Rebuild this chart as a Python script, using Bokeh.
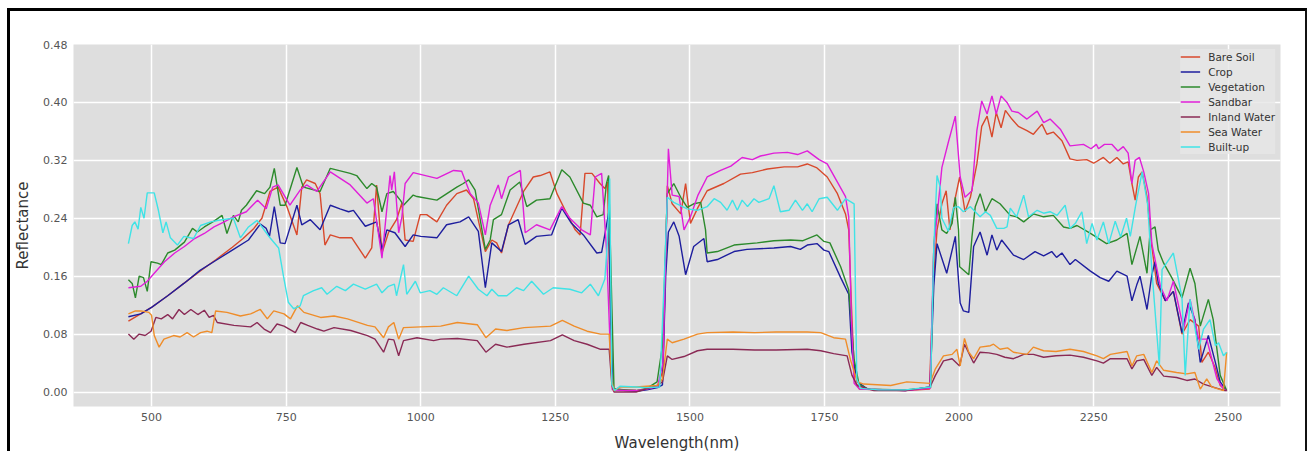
from bokeh.plotting import figure
from bokeh.models import FixedTicker, PrintfTickFormatter, Range1d
from bokeh.embed import file_html
from bokeh.resources import INLINE

# ---------------- data ----------------
series_names = ["Bare Soil", "Crop", "Vegetation", "Sandbar", "Inland Water", "Sea Water", "Built-up"]
series_colors = ["#d8492c", "#1e1e9e", "#2c8a2c", "#e01fd9", "#8a2a55", "#ef8d2a", "#3fe3e6"]

x_ticks = [500, 750, 1000, 1250, 1500, 1750, 2000, 2250, 2500]
y_ticks = [0.0, 0.08, 0.16, 0.24, 0.32, 0.40, 0.48]

wl_bare = [457, 475, 500, 530, 560, 590, 620, 650, 670, 690, 705, 720, 735, 752, 770, 779, 788, 804, 813, 822, 832, 850, 872, 897, 909, 918, 928, 940, 955, 965, 971, 986, 999, 1011, 1030, 1048, 1067, 1085, 1098, 1120, 1132, 1141, 1150, 1163, 1191, 1209, 1222, 1240, 1253, 1271, 1287, 1296, 1305, 1318, 1333, 1342, 1347, 1352, 1356, 1380, 1400, 1420, 1440, 1450, 1458, 1467, 1483, 1492, 1501, 1515, 1532, 1563, 1594, 1616, 1644, 1675, 1700, 1718, 1735, 1755, 1774, 1789, 1795, 1800, 1806, 1815, 1850, 1900, 1945, 1952, 1959, 1968, 1976, 1983, 1992, 2001, 2011, 2021, 2033, 2042, 2052, 2061, 2069, 2078, 2086, 2098, 2110, 2126, 2138, 2154, 2163, 2175, 2191, 2206, 2219, 2237, 2250, 2268, 2280, 2293, 2305, 2314, 2321, 2327, 2333, 2340, 2349, 2358, 2367, 2383, 2398, 2414, 2429, 2445, 2451, 2463, 2475, 2485, 2497]
r_bare = [0.098, 0.106, 0.117, 0.133, 0.150, 0.167, 0.183, 0.200, 0.212, 0.226, 0.240, 0.277, 0.283, 0.255, 0.217, 0.283, 0.293, 0.288, 0.274, 0.203, 0.217, 0.213, 0.213, 0.185, 0.199, 0.286, 0.192, 0.220, 0.238, 0.261, 0.210, 0.208, 0.245, 0.245, 0.235, 0.258, 0.274, 0.279, 0.267, 0.194, 0.210, 0.206, 0.192, 0.231, 0.277, 0.297, 0.299, 0.304, 0.274, 0.247, 0.224, 0.217, 0.302, 0.302, 0.288, 0.281, 0.290, 0.120, 0.005, 0.003, 0.002, 0.004, 0.008, 0.030, 0.285, 0.260, 0.246, 0.288, 0.233, 0.255, 0.278, 0.288, 0.301, 0.303, 0.308, 0.311, 0.311, 0.315, 0.310, 0.297, 0.274, 0.246, 0.224, 0.120, 0.015, 0.004, 0.003, 0.002, 0.004, 0.150, 0.224, 0.260, 0.278, 0.224, 0.265, 0.297, 0.249, 0.269, 0.315, 0.367, 0.381, 0.352, 0.386, 0.365, 0.389, 0.377, 0.367, 0.361, 0.356, 0.370, 0.356, 0.359, 0.347, 0.322, 0.320, 0.321, 0.316, 0.324, 0.316, 0.324, 0.315, 0.318, 0.288, 0.265, 0.297, 0.304, 0.270, 0.201, 0.150, 0.126, 0.139, 0.080, 0.100, 0.091, 0.041, 0.055, 0.035, 0.009, 0.002]

wl_crop = [457, 480, 500, 530, 560, 590, 620, 650, 680, 702, 713, 719, 728, 739, 748, 770, 779, 795, 813, 832, 850, 866, 875, 897, 918, 928, 937, 952, 971, 986, 1000, 1030, 1048, 1073, 1089, 1107, 1120, 1132, 1150, 1163, 1181, 1194, 1215, 1243, 1262, 1280, 1302, 1327, 1336, 1349, 1353, 1357, 1380, 1400, 1420, 1440, 1449, 1455, 1460, 1470, 1480, 1492, 1507, 1526, 1532, 1551, 1582, 1606, 1656, 1687, 1705, 1718, 1736, 1749, 1758, 1780, 1795, 1801, 1811, 1830, 1900, 1946, 1953, 1959, 1977, 1993, 2002, 2008, 2018, 2027, 2039, 2052, 2061, 2070, 2079, 2101, 2120, 2141, 2157, 2172, 2181, 2191, 2206, 2216, 2244, 2262, 2278, 2293, 2312, 2321, 2330, 2336, 2349, 2358, 2364, 2370, 2383, 2398, 2414, 2426, 2438, 2448, 2463, 2476, 2485, 2497]
r_crop = [0.104, 0.108, 0.117, 0.133, 0.150, 0.168, 0.182, 0.196, 0.210, 0.232, 0.226, 0.215, 0.256, 0.206, 0.205, 0.258, 0.231, 0.238, 0.224, 0.258, 0.253, 0.249, 0.251, 0.229, 0.235, 0.197, 0.224, 0.220, 0.201, 0.217, 0.215, 0.213, 0.231, 0.235, 0.242, 0.222, 0.144, 0.206, 0.194, 0.231, 0.238, 0.204, 0.215, 0.217, 0.254, 0.233, 0.217, 0.192, 0.193, 0.247, 0.100, 0.004, 0.002, 0.001, 0.003, 0.006, 0.010, 0.160, 0.221, 0.235, 0.215, 0.162, 0.201, 0.212, 0.180, 0.183, 0.194, 0.197, 0.199, 0.201, 0.197, 0.203, 0.205, 0.196, 0.194, 0.158, 0.135, 0.055, 0.014, 0.004, 0.002, 0.007, 0.146, 0.205, 0.164, 0.215, 0.123, 0.112, 0.110, 0.201, 0.221, 0.189, 0.217, 0.196, 0.210, 0.189, 0.183, 0.194, 0.188, 0.194, 0.186, 0.192, 0.176, 0.183, 0.167, 0.158, 0.153, 0.167, 0.160, 0.126, 0.148, 0.160, 0.114, 0.162, 0.180, 0.150, 0.126, 0.139, 0.082, 0.123, 0.100, 0.041, 0.078, 0.041, 0.014, 0.002]

wl_veg = [457, 464, 470, 477, 485, 492, 499, 511, 518, 530, 543, 561, 576, 585, 598, 616, 631, 640, 652, 661, 667, 676, 695, 710, 720, 728, 739, 748, 770, 782, 813, 832, 869, 881, 900, 909, 918, 928, 937, 949, 962, 968, 986, 993, 1030, 1067, 1079, 1089, 1101, 1120, 1129, 1135, 1150, 1166, 1184, 1197, 1215, 1240, 1262, 1277, 1302, 1315, 1327, 1339, 1345, 1349, 1355, 1359, 1380, 1400, 1420, 1439, 1449, 1458, 1470, 1483, 1495, 1507, 1520, 1529, 1532, 1551, 1582, 1625, 1656, 1687, 1710, 1736, 1749, 1760, 1780, 1795, 1805, 1814, 1830, 1900, 1947, 1953, 1959, 1968, 1977, 1987, 1993, 1999, 2001, 2018, 2024, 2030, 2039, 2049, 2061, 2076, 2095, 2107, 2120, 2138, 2157, 2175, 2194, 2206, 2219, 2244, 2274, 2293, 2312, 2321, 2336, 2349, 2355, 2364, 2370, 2380, 2395, 2414, 2429, 2438, 2448, 2463, 2472, 2485, 2497]
r_veg = [0.155, 0.150, 0.130, 0.160, 0.158, 0.139, 0.180, 0.178, 0.176, 0.192, 0.196, 0.207, 0.226, 0.221, 0.228, 0.236, 0.244, 0.219, 0.244, 0.235, 0.251, 0.258, 0.278, 0.274, 0.283, 0.309, 0.258, 0.258, 0.310, 0.283, 0.277, 0.309, 0.302, 0.299, 0.281, 0.288, 0.283, 0.249, 0.274, 0.277, 0.265, 0.258, 0.272, 0.270, 0.265, 0.283, 0.288, 0.293, 0.279, 0.197, 0.210, 0.238, 0.245, 0.279, 0.290, 0.256, 0.265, 0.267, 0.307, 0.297, 0.261, 0.258, 0.242, 0.245, 0.288, 0.299, 0.119, 0.004, 0.003, 0.002, 0.005, 0.014, 0.064, 0.274, 0.288, 0.269, 0.255, 0.260, 0.262, 0.224, 0.192, 0.194, 0.203, 0.206, 0.209, 0.210, 0.209, 0.217, 0.208, 0.206, 0.173, 0.141, 0.045, 0.011, 0.004, 0.003, 0.006, 0.200, 0.260, 0.224, 0.219, 0.233, 0.269, 0.224, 0.173, 0.162, 0.215, 0.256, 0.274, 0.249, 0.267, 0.260, 0.244, 0.242, 0.235, 0.246, 0.242, 0.244, 0.228, 0.226, 0.230, 0.219, 0.205, 0.210, 0.219, 0.176, 0.215, 0.164, 0.224, 0.228, 0.196, 0.178, 0.158, 0.130, 0.171, 0.150, 0.091, 0.128, 0.100, 0.023, 0.002]

wl_sand = [457, 480, 492, 505, 524, 543, 561, 580, 598, 616, 635, 652, 676, 697, 713, 725, 735, 757, 776, 788, 807, 832, 869, 900, 912, 928, 943, 946, 951, 959, 965, 971, 986, 1030, 1061, 1076, 1092, 1107, 1120, 1129, 1144, 1150, 1163, 1185, 1194, 1215, 1240, 1262, 1277, 1299, 1315, 1324, 1336, 1345, 1352, 1356, 1380, 1400, 1420, 1440, 1450, 1460, 1467, 1480, 1489, 1501, 1515, 1532, 1557, 1576, 1597, 1616, 1631, 1656, 1681, 1700, 1718, 1740, 1755, 1774, 1789, 1795, 1800, 1805, 1815, 1900, 1946, 1953, 1959, 1968, 1980, 1993, 2002, 2011, 2024, 2033, 2042, 2052, 2061, 2069, 2078, 2089, 2098, 2110, 2126, 2145, 2157, 2169, 2188, 2206, 2231, 2245, 2255, 2259, 2270, 2284, 2295, 2305, 2314, 2321, 2327, 2335, 2343, 2352, 2358, 2374, 2386, 2398, 2417, 2429, 2445, 2460, 2479, 2491, 2497]
r_sand = [0.144, 0.146, 0.153, 0.164, 0.180, 0.192, 0.201, 0.212, 0.219, 0.228, 0.235, 0.242, 0.249, 0.265, 0.253, 0.283, 0.286, 0.258, 0.279, 0.286, 0.277, 0.304, 0.286, 0.261, 0.267, 0.185, 0.299, 0.279, 0.304, 0.220, 0.242, 0.288, 0.303, 0.295, 0.306, 0.305, 0.274, 0.261, 0.217, 0.258, 0.286, 0.267, 0.297, 0.306, 0.220, 0.231, 0.224, 0.256, 0.240, 0.224, 0.217, 0.297, 0.302, 0.197, 0.060, 0.003, 0.002, 0.002, 0.004, 0.008, 0.040, 0.336, 0.272, 0.270, 0.224, 0.242, 0.272, 0.297, 0.306, 0.312, 0.324, 0.321, 0.326, 0.330, 0.331, 0.328, 0.333, 0.321, 0.315, 0.290, 0.270, 0.242, 0.100, 0.012, 0.004, 0.002, 0.005, 0.200, 0.242, 0.310, 0.345, 0.381, 0.297, 0.269, 0.278, 0.361, 0.402, 0.384, 0.409, 0.384, 0.409, 0.400, 0.388, 0.386, 0.377, 0.388, 0.372, 0.377, 0.363, 0.340, 0.342, 0.336, 0.342, 0.336, 0.342, 0.342, 0.333, 0.339, 0.330, 0.288, 0.320, 0.324, 0.304, 0.274, 0.205, 0.146, 0.126, 0.153, 0.087, 0.128, 0.073, 0.073, 0.018, 0.004, 0.002]

wl_inland = [457, 467, 477, 488, 499, 508, 518, 530, 539, 551, 561, 573, 586, 598, 607, 615, 622, 653, 684, 696, 709, 721, 733, 746, 767, 777, 790, 808, 820, 839, 870, 901, 915, 931, 940, 950, 959, 968, 993, 1024, 1037, 1068, 1105, 1121, 1139, 1160, 1192, 1241, 1263, 1285, 1309, 1334, 1350, 1355, 1359, 1400, 1439, 1449, 1458, 1467, 1489, 1514, 1532, 1580, 1620, 1660, 1718, 1743, 1767, 1792, 1801, 1811, 1842, 1900, 1946, 1956, 1971, 1987, 2001, 2010, 2027, 2039, 2055, 2070, 2085, 2101, 2120, 2138, 2157, 2180, 2206, 2231, 2256, 2268, 2281, 2312, 2321, 2330, 2343, 2358, 2367, 2380, 2404, 2423, 2438, 2454, 2475, 2494, 2497]
r_inland = [0.080, 0.073, 0.080, 0.078, 0.084, 0.103, 0.101, 0.107, 0.101, 0.114, 0.107, 0.114, 0.107, 0.113, 0.103, 0.106, 0.096, 0.092, 0.090, 0.096, 0.087, 0.082, 0.094, 0.091, 0.082, 0.096, 0.092, 0.087, 0.084, 0.089, 0.085, 0.078, 0.073, 0.055, 0.073, 0.072, 0.050, 0.071, 0.075, 0.071, 0.073, 0.074, 0.071, 0.055, 0.066, 0.062, 0.066, 0.071, 0.079, 0.071, 0.066, 0.059, 0.059, 0.010, 0.000, 0.000, 0.009, 0.014, 0.050, 0.045, 0.049, 0.057, 0.059, 0.059, 0.058, 0.058, 0.059, 0.057, 0.053, 0.050, 0.023, 0.009, 0.002, 0.002, 0.007, 0.023, 0.043, 0.046, 0.036, 0.066, 0.040, 0.055, 0.054, 0.052, 0.048, 0.046, 0.052, 0.052, 0.048, 0.050, 0.051, 0.048, 0.043, 0.040, 0.046, 0.046, 0.032, 0.043, 0.045, 0.023, 0.034, 0.022, 0.020, 0.016, 0.018, 0.011, 0.006, 0.002, 0.002]

wl_sea = [457, 470, 480, 495, 500, 505, 514, 523, 541, 553, 566, 578, 591, 603, 612, 619, 640, 665, 684, 702, 715, 727, 746, 758, 771, 783, 814, 839, 864, 901, 915, 931, 940, 950, 959, 968, 1000, 1037, 1068, 1105, 1121, 1139, 1160, 1192, 1241, 1263, 1285, 1309, 1334, 1350, 1355, 1359, 1371, 1400, 1439, 1449, 1458, 1467, 1489, 1514, 1532, 1580, 1620, 1660, 1718, 1743, 1767, 1789, 1798, 1811, 1823, 1873, 1903, 1946, 1956, 1971, 1987, 1996, 2002, 2010, 2018, 2027, 2039, 2058, 2064, 2076, 2090, 2101, 2126, 2138, 2157, 2180, 2206, 2231, 2256, 2268, 2281, 2312, 2321, 2330, 2343, 2358, 2367, 2380, 2404, 2423, 2438, 2448, 2460, 2469, 2491, 2497]
r_sea = [0.108, 0.112, 0.112, 0.110, 0.106, 0.078, 0.062, 0.073, 0.078, 0.076, 0.082, 0.076, 0.082, 0.084, 0.082, 0.112, 0.110, 0.105, 0.108, 0.114, 0.101, 0.112, 0.108, 0.101, 0.119, 0.110, 0.103, 0.105, 0.101, 0.092, 0.090, 0.075, 0.090, 0.096, 0.073, 0.089, 0.090, 0.091, 0.096, 0.093, 0.075, 0.087, 0.085, 0.089, 0.091, 0.099, 0.091, 0.084, 0.080, 0.080, 0.015, 0.002, 0.007, 0.007, 0.009, 0.018, 0.073, 0.068, 0.073, 0.080, 0.082, 0.083, 0.082, 0.083, 0.083, 0.082, 0.075, 0.073, 0.045, 0.014, 0.011, 0.009, 0.014, 0.012, 0.032, 0.050, 0.052, 0.059, 0.036, 0.074, 0.055, 0.046, 0.062, 0.064, 0.066, 0.059, 0.061, 0.055, 0.052, 0.062, 0.057, 0.056, 0.059, 0.056, 0.050, 0.046, 0.052, 0.056, 0.036, 0.050, 0.052, 0.027, 0.043, 0.030, 0.027, 0.025, 0.027, 0.004, 0.018, 0.007, 0.002, 0.055]

wl_built = [457, 464, 469, 475, 480, 486, 492, 505, 513, 521, 527, 535, 548, 560, 578, 591, 610, 630, 652, 665, 680, 696, 713, 720, 736, 745, 754, 764, 776, 782, 801, 816, 826, 844, 860, 875, 897, 918, 928, 940, 951, 955, 968, 974, 990, 999, 1017, 1030, 1042, 1067, 1089, 1107, 1123, 1132, 1144, 1160, 1178, 1191, 1206, 1228, 1246, 1277, 1299, 1315, 1330, 1342, 1347, 1351, 1355, 1360, 1370, 1400, 1420, 1444, 1452, 1458, 1470, 1495, 1514, 1532, 1545, 1557, 1569, 1579, 1588, 1597, 1607, 1619, 1628, 1647, 1656, 1668, 1684, 1696, 1709, 1718, 1727, 1740, 1755, 1774, 1789, 1805, 1810, 1817, 1850, 1900, 1947, 1953, 1959, 1965, 1968, 1980, 1990, 1999, 2008, 2021, 2039, 2049, 2058, 2070, 2083, 2089, 2095, 2107, 2120, 2129, 2145, 2157, 2169, 2182, 2197, 2206, 2216, 2228, 2237, 2247, 2256, 2268, 2278, 2290, 2300, 2311, 2318, 2328, 2340, 2350, 2358, 2372, 2377, 2398, 2414, 2420, 2429, 2445, 2454, 2466, 2476, 2482, 2491, 2497]
r_built = [0.205, 0.230, 0.235, 0.225, 0.255, 0.240, 0.275, 0.275, 0.250, 0.220, 0.235, 0.213, 0.203, 0.215, 0.212, 0.230, 0.235, 0.238, 0.240, 0.213, 0.228, 0.237, 0.220, 0.213, 0.199, 0.160, 0.124, 0.115, 0.119, 0.133, 0.140, 0.144, 0.135, 0.146, 0.140, 0.149, 0.142, 0.149, 0.137, 0.146, 0.149, 0.133, 0.176, 0.135, 0.153, 0.137, 0.140, 0.135, 0.144, 0.133, 0.160, 0.142, 0.133, 0.142, 0.133, 0.133, 0.144, 0.140, 0.153, 0.135, 0.144, 0.142, 0.137, 0.149, 0.133, 0.156, 0.210, 0.295, 0.010, 0.002, 0.008, 0.007, 0.006, 0.007, 0.150, 0.269, 0.262, 0.253, 0.251, 0.256, 0.267, 0.262, 0.251, 0.265, 0.251, 0.265, 0.256, 0.267, 0.262, 0.267, 0.285, 0.249, 0.251, 0.265, 0.251, 0.260, 0.249, 0.267, 0.269, 0.251, 0.267, 0.260, 0.018, 0.005, 0.003, 0.003, 0.007, 0.200, 0.299, 0.283, 0.240, 0.222, 0.255, 0.256, 0.249, 0.256, 0.242, 0.249, 0.244, 0.226, 0.226, 0.228, 0.254, 0.242, 0.272, 0.242, 0.251, 0.247, 0.249, 0.244, 0.258, 0.226, 0.233, 0.249, 0.205, 0.233, 0.210, 0.235, 0.205, 0.236, 0.214, 0.240, 0.215, 0.258, 0.304, 0.260, 0.169, 0.036, 0.169, 0.192, 0.130, 0.023, 0.128, 0.059, 0.087, 0.100, 0.064, 0.068, 0.050, 0.055]

series_wl = [wl_bare, wl_crop, wl_veg, wl_sand, wl_inland, wl_sea, wl_built]
series_r = [r_bare, r_crop, r_veg, r_sand, r_inland, r_sea, r_built]

# ---------------- figure ----------------
FONT = "DejaVu Sans"
p = figure(width=1300, height=443, output_backend="svg", toolbar_location=None,
           x_range=Range1d(355, 2597), y_range=Range1d(-0.02, 0.48),
           min_border_left=63, min_border_top=33, min_border_right=30, min_border_bottom=46)
p.styles = {"margin-left": "7px", "margin-top": "8px",
            "border-left": "3px solid #000", "border-top": "3px solid #000",
            "border-right": "2px solid #111"}

p.background_fill_color = "#dedede"
p.border_fill_color = "white"
p.outline_line_color = None

p.xgrid.grid_line_color = "white"
p.ygrid.grid_line_color = "white"
p.xgrid.grid_line_width = 1.5
p.ygrid.grid_line_width = 1.5

p.xaxis.ticker = FixedTicker(ticks=x_ticks)
p.yaxis.ticker = FixedTicker(ticks=y_ticks)
p.yaxis.formatter = PrintfTickFormatter(format="%.2f")
for ax in (p.xaxis, p.yaxis):
    ax.axis_line_color = None
    ax.major_tick_line_color = None
    ax.minor_tick_line_color = None
    ax.major_tick_out = 0
    ax.major_tick_in = 0
    ax.minor_tick_out = 0
    ax.minor_tick_in = 0
    ax.major_label_text_font = FONT
    ax.major_label_text_font_size = "11px"
    ax.major_label_text_color = "#555555"
    ax.axis_label_text_font = FONT
    ax.axis_label_text_font_size = "15px"
    ax.axis_label_text_font_style = "normal"
    ax.axis_label_text_color = "#333333"
p.xaxis.axis_label = "Wavelength(nm)"
p.yaxis.axis_label = "Reflectance"
p.xaxis.major_label_standoff = 6
p.yaxis.major_label_standoff = 6
p.xaxis.axis_label_standoff = 10
p.yaxis.axis_label_standoff = 8

for name, color, wl, r in zip(series_names, series_colors, series_wl, series_r):
    p.line(wl, r, line_color=color, line_width=1.4, legend_label=name)

lg = p.legend[0]
lg.location = "top_right"
lg.background_fill_color = "#e6e6e6"
lg.background_fill_alpha = 0.8
lg.border_line_color = None
lg.label_text_font = FONT
lg.label_text_font_size = "10.5px"
lg.label_text_color = "#333333"
lg.glyph_width = 20
lg.glyph_height = 15
lg.label_height = 15
lg.spacing = 0
lg.padding = 7
lg.margin = 5
lg.label_standoff = 8

open("out.html", "w").write(file_html(p, INLINE))
